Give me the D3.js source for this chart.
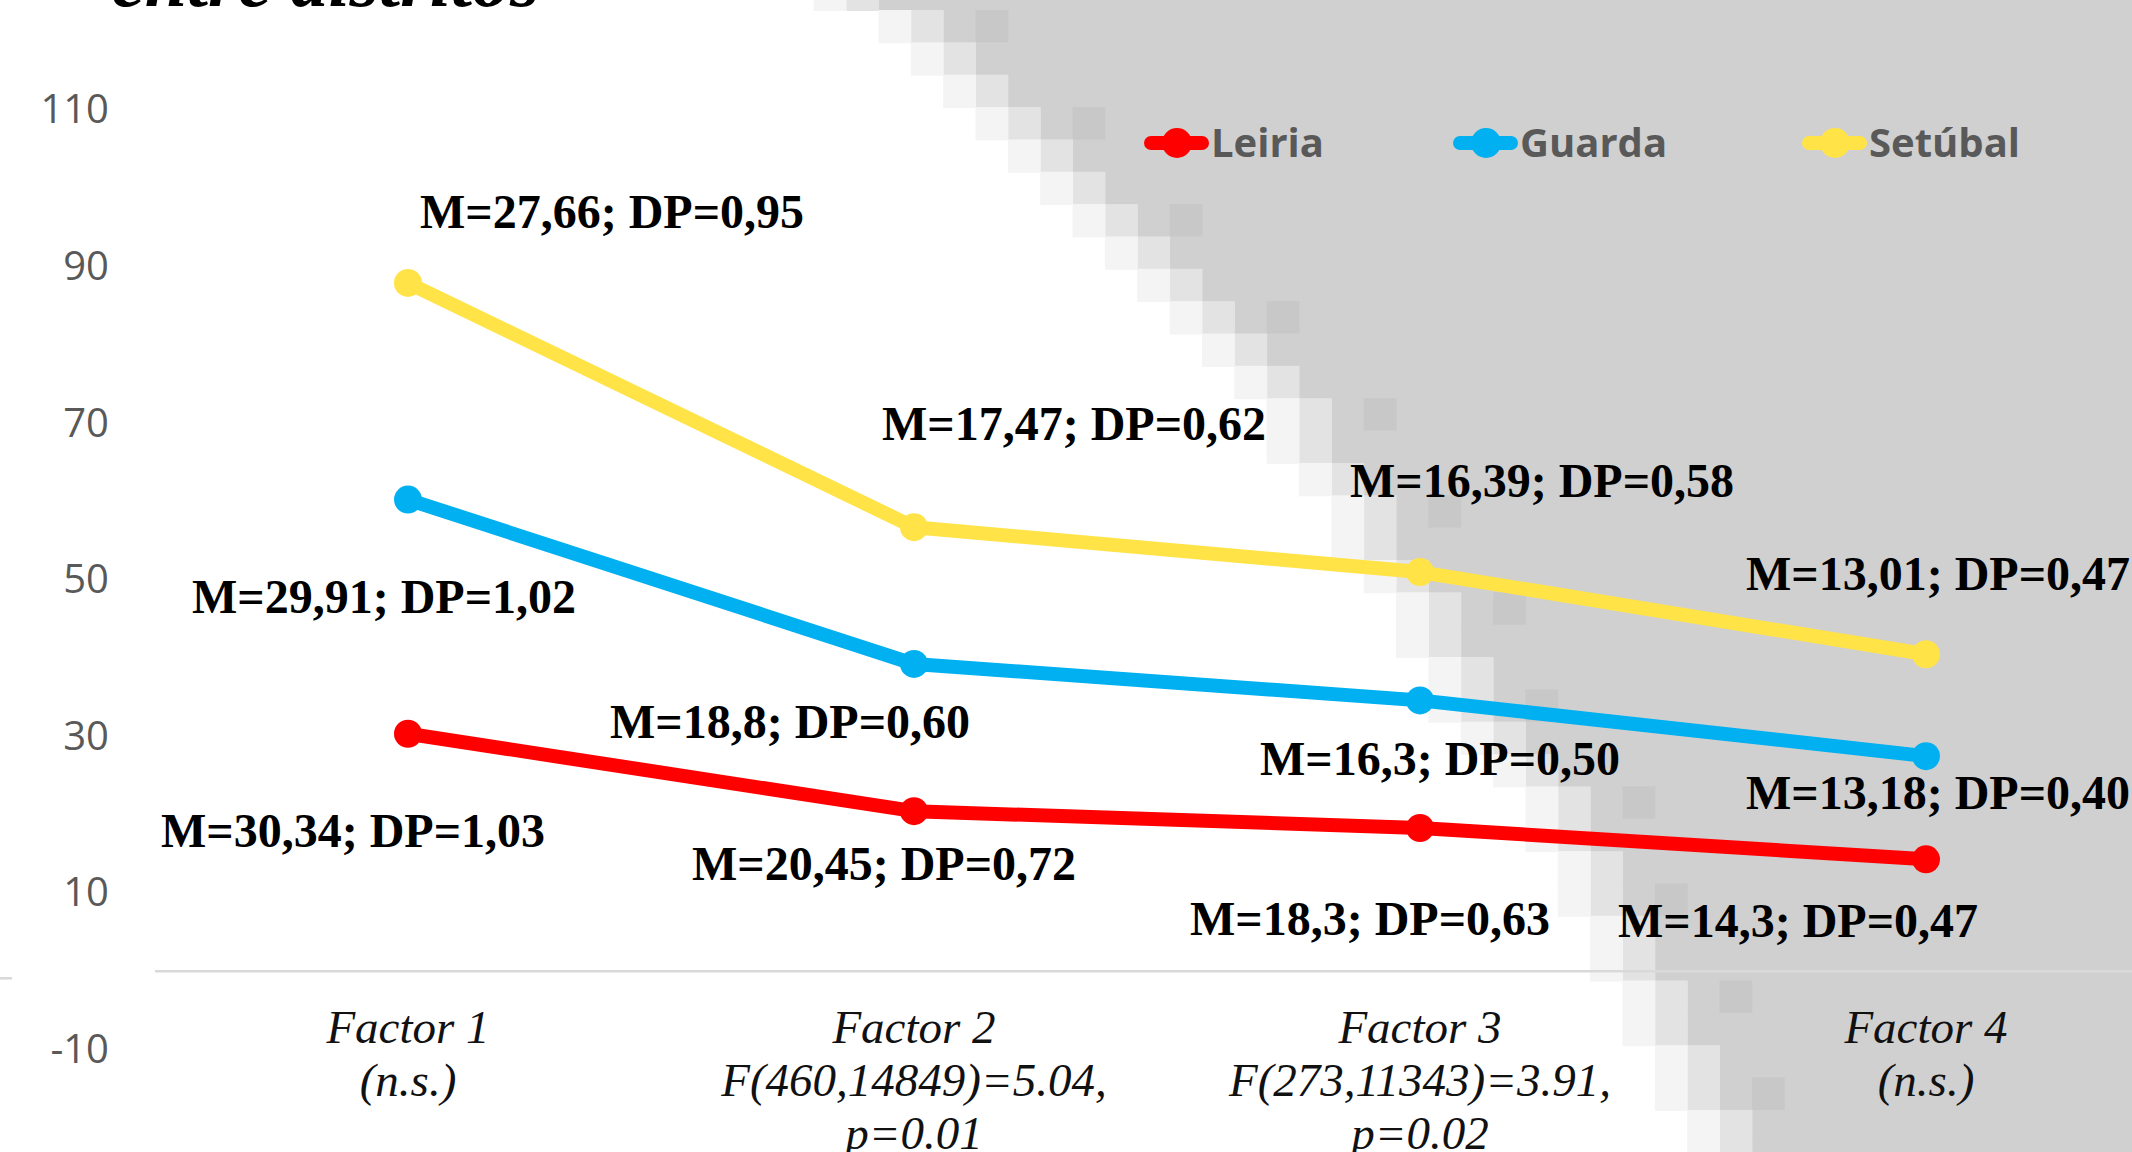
<!DOCTYPE html>
<html>
<head>
<meta charset="utf-8">
<script src="https://cdn.jsdelivr.net/npm/d3@7"></script>
<style>
  html, body { margin: 0; padding: 0; background: #fff; overflow: hidden; }
</style>
</head>
<body>
<svg id="chart" width="2132" height="1152"></svg>
<script>
// data
const factors = ['Factor 1', 'Factor 2', 'Factor 3', 'Factor 4']
const factorNotes = [['(n.s.)'], ['F(460,14849)=5.04,', 'p=0.01'], ['F(273,11343)=3.91,', 'p=0.02'], ['(n.s.)']]
const districts = ['Leiria', 'Guarda', 'Setúbal']
const leiriaM = [30.34, 20.45, 18.3, 14.3]
const leiriaDP = [1.03, 0.72, 0.63, 0.47]
const guardaM = [29.91, 18.8, 16.3, 13.18]
const guardaDP = [1.02, 0.60, 0.50, 0.40]
const setubalM = [27.66, 17.47, 16.39, 13.01]
const setubalDP = [0.95, 0.62, 0.58, 0.47]
const yTicks = [-10, 10, 30, 50, 70, 90, 110]
const colors = ['#FF0000', '#00B0F0', '#FFE347']

// where each data label sits, relative to its point (dx, dy)
const labelOffsets = [
  [[-55, 113], [-30, 69], [-50, 107], [-128, 78]],
  [[-24, 113], [-124, 74], [20, 75], [12, 53]],
  [[204, -55], [160, -87], [122, -75], [12, -64]]
]

// pixelated grey patch on the right of the background: first solid column per row
const mosaicSolidCol = [27, 29, 30, 31, 32, 33, 34, 35, 36, 37, 38, 39, 40, 41, 41, 42, 43, 43, 44, 45, 45, 46, 46, 47, 48, 49, 49, 50, 50, 51, 51, 52, 52, 53, 53, 54, 54]

const width = 2132, height = 1152
const svg = d3.select('#chart')

// background mosaic
const cell = 32.35, gridX0 = 5, gridY0 = 10 - cell
let bg = svg.append('g').attr('class', 'bg')
mosaicSolidCol.forEach((c, r) => {
  const y0 = gridY0 + r * cell
  bg.append('rect').attr('x', gridX0 + c * cell).attr('y', y0)
    .attr('width', width).attr('height', cell + 1).attr('fill', '#d0d0d0')
  bg.append('rect').attr('x', gridX0 + (c - 1) * cell).attr('y', y0)
    .attr('width', cell + 0.5).attr('height', cell + 1).attr('fill', '#e3e3e3')
  bg.append('rect').attr('x', gridX0 + (c - 2) * cell).attr('y', y0)
    .attr('width', cell + 0.5).attr('height', cell + 1).attr('fill', '#f4f4f4')
  if (r % 3 === 1) {
    bg.append('rect').attr('x', gridX0 + (c + 1) * cell).attr('y', y0)
      .attr('width', cell + 0.5).attr('height', cell + 1).attr('fill', '#c8c8c8')
  }
})

// scales
const x = d3.scaleBand().domain(factors).range([155, 2179]).padding(0)
const xc = f => x(f) + x.bandwidth() / 2
const y = d3.scaleLinear().domain([-10, 110]).range([1049.6, 110])

// title fragment cut at top
svg.append('text')
   .attr('x', 111).attr('y', 6)
   .style('font-family', '"Liberation Serif", "Times New Roman", serif')
   .style('font-style', 'italic').style('font-weight', 'bold')
   .style('font-size', '76px').attr('fill', '#000')
   .text('entre distritos')

// y axis labels
const yAxis = svg.append('g')
   .attr('transform', 'translate(109,0)')
   .call(d3.axisLeft(y).tickValues(yTicks).tickFormat(d => String(d)).tickSize(0).tickPadding(0))
yAxis.select('.domain').remove()
yAxis.selectAll('text')
   .style('font-family', '"Open Sans", "Noto Sans", sans-serif')
   .style('font-size', '40px')
   .attr('fill', '#595959')

// zero line
svg.append('line')
   .attr('x1', 155).attr('x2', width)
   .attr('y1', y(0)).attr('y2', y(0))
   .attr('stroke', '#d9d9d9').attr('stroke-width', 2.5)
svg.append('line')
   .attr('x1', 0).attr('x2', 12)
   .attr('y1', y(0) + 7).attr('y2', y(0) + 7)
   .attr('stroke', '#d9d9d9').attr('stroke-width', 2.5)

// x category labels
let xLabels = svg.append('g').selectAll('text').data(factors).enter().append('text')
   .attr('text-anchor', 'middle')
   .style('font-family', '"Liberation Serif", "Times New Roman", serif')
   .style('font-style', 'italic').style('font-size', '47px')
   .attr('fill', '#111')
xLabels.selectAll('tspan')
   .data((d, i) => [d].concat(factorNotes[i]).map(t => ({t, f: d})))
   .enter().append('tspan')
   .attr('x', d => xc(d.f))
   .attr('y', (d, i) => 1043 + i * 53)
   .text(d => d.t)

// stacked series
const rows = factors.map((f, i) => ({factor: f, Leiria: leiriaM[i], Guarda: guardaM[i], 'Setúbal': setubalM[i]}))
const stacked = d3.stack().keys(districts)(rows)
const dps = [leiriaDP, guardaDP, setubalDP]

const line = d3.line().x(d => xc(d.data.factor)).y(d => y(d[1]))

let seriesGroup = svg.append('g').attr('class', 'series')
seriesGroup.selectAll('path').data(stacked).enter().append('path')
   .attr('d', d => line(d))
   .attr('fill', 'none')
   .attr('stroke', (d, i) => colors[i])
   .attr('stroke-width', 14)
   .attr('stroke-linejoin', 'round')

stacked.forEach((s, si) => {
  seriesGroup.append('g').selectAll('circle').data(s).enter().append('circle')
     .attr('cx', d => xc(d.data.factor))
     .attr('cy', d => y(d[1]))
     .attr('r', 14)
     .attr('fill', colors[si])
})

// data labels
const fmtDP = d3.format('.2f')
let labelGroup = svg.append('g').attr('class', 'labels')
stacked.forEach((s, si) => {
  labelGroup.append('g').selectAll('text').data(s).enter().append('text')
     .attr('x', (d, i) => xc(d.data.factor) + labelOffsets[si][i][0])
     .attr('y', (d, i) => y(d[1]) + labelOffsets[si][i][1])
     .attr('text-anchor', 'middle')
     .style('font-family', '"Liberation Serif", "Times New Roman", serif')
     .style('font-weight', 'bold').style('font-size', '48px')
     .attr('fill', '#000')
     .text((d, i) => 'M=' + String(d.data[s.key]).replace('.', ',') + '; DP=' + fmtDP(dps[si][i]).replace('.', ','))
})

// legend
const legendX = [1144, 1453, 1802]
let legend = svg.append('g').attr('class', 'legend')
  .selectAll('g').data(districts).enter().append('g')
  .attr('transform', (d, i) => `translate(${legendX[i]},143)`)
legend.append('line')
   .attr('x1', 7).attr('x2', 58).attr('y1', 0).attr('y2', 0)
   .attr('stroke', (d, i) => colors[i]).attr('stroke-width', 14)
   .attr('stroke-linecap', 'round')
legend.append('circle')
   .attr('cx', 33).attr('cy', 0).attr('r', 15)
   .attr('fill', (d, i) => colors[i])
legend.append('text')
   .attr('x', 67).attr('y', 14)
   .style('font-family', '"Open Sans", "Noto Sans", sans-serif')
   .style('font-weight', 700).style('font-size', '40px')
   .attr('fill', '#595959')
   .text(d => d)
</script>
</body>
</html>
